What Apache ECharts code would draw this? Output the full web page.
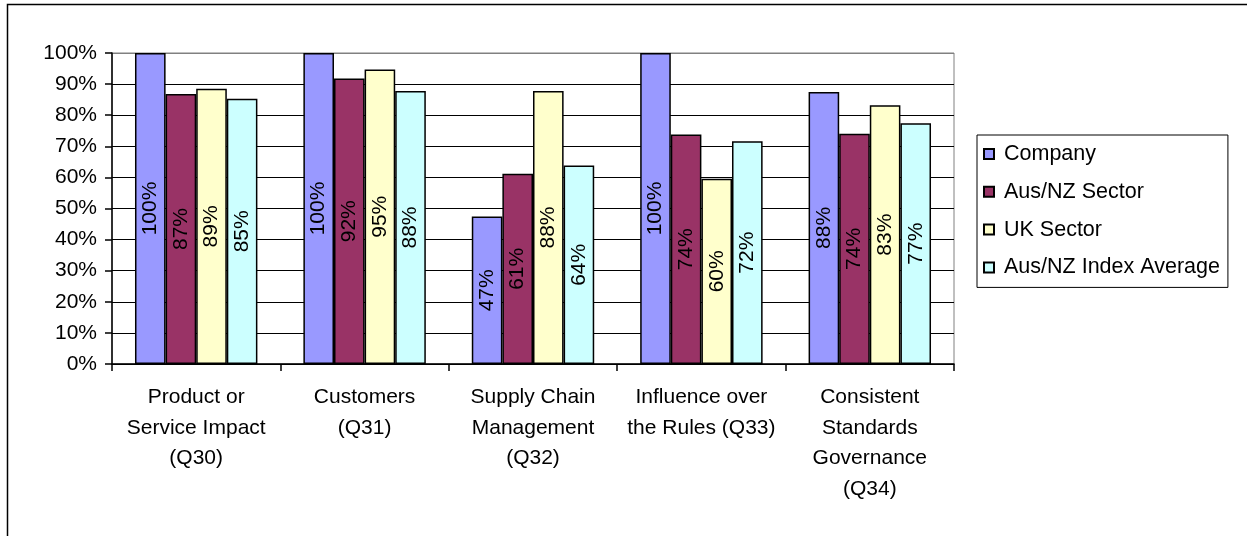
<!DOCTYPE html>
<html>
<head>
<meta charset="utf-8">
<script src="https://cdn.jsdelivr.net/npm/echarts@6/dist/echarts.min.js"></script>
<style>
html,body{margin:0;padding:0;background:#fff;}
#c{width:1247px;height:536px;}
</style>
</head>
<body>
<div id="c"></div>
<script>
const categories = [
  "Product or\nService Impact\n(Q30)",
  "Customers\n(Q31)",
  "Supply Chain\nManagement\n(Q32)",
  "Influence over\nthe Rules (Q33)",
  "Consistent\nStandards\nGovernance\n(Q34)"
];
const seriesNames = ["Company", "Aus/NZ Sector", "UK Sector", "Aus/NZ Index Average"];
const company = [100, 100, 47.4, 100, 87.5];
const ausNzSector = [86.8, 91.8, 61.2, 73.8, 74.0];
const ukSector = [88.5, 94.7, 87.8, 59.6, 83.2];
const ausNzIndexAverage = [85.3, 87.8, 63.8, 71.6, 77.4];
const yTicks = [0, 10, 20, 30, 40, 50, 60, 70, 80, 90, 100];

const colors = ["#9999FF", "#993366", "#FFFFCC", "#CCFFFF"];
const allData = [company, ausNzSector, ukSector, ausNzIndexAverage];
const FONT = "Liberation Sans, Arial, sans-serif";

const chart = echarts.init(document.getElementById('c'), null, {renderer: 'canvas'});
const splitColors = yTicks.map((t, i) => i === yTicks.length - 1 ? '#808080' : '#000000');

chart.setOption({
  animation: false,
  backgroundColor: '#ffffff',
  textStyle: {fontFamily: FONT},
  graphic: [{
    type: 'rect',
    shape: {x: 7.5, y: 4.5, width: 3000, height: 3000},
    style: {fill: 'none', stroke: '#000', lineWidth: 1.5},
    z: 0
  }],
  grid: {
    left: 112, right: 293, top: 53, bottom: 172,
    show: true, borderColor: '#808080', borderWidth: 1, backgroundColor: 'transparent'
  },
  legend: {
    orient: 'vertical',
    left: 977, top: 135,
    width: 255,
    padding: [8, 8, 9, 6],
    itemGap: 15.8,
    itemWidth: 10, itemHeight: 10,
    borderColor: '#000', borderWidth: 1,
    icon: 'rect',
    data: seriesNames,
    textStyle: {fontSize: 21.5, fontFamily: FONT, color: '#000', lineHeight: 20, padding: [0, 0, 0, 5]}
  },
  xAxis: {
    type: 'category',
    data: categories,
    axisLine: {lineStyle: {color: '#000', width: 1.5}},
    axisTick: {show: true, length: 7, lineStyle: {color: '#000', width: 1.5}},
    axisLabel: {interval: 0, fontSize: 21, fontFamily: FONT, color: '#000', lineHeight: 30.5, margin: 18}
  },
  yAxis: {
    type: 'value',
    min: 0, max: 100, interval: 10,
    axisLine: {show: true, lineStyle: {color: '#000', width: 1.5}},
    axisTick: {show: true, length: 7, lineStyle: {color: '#000', width: 1.5}},
    axisLabel: {formatter: '{value}%', fontSize: 21, fontFamily: FONT, color: '#000', margin: 15},
    splitLine: {show: true, lineStyle: {color: splitColors, width: 1}}
  },
  series: seriesNames.map((name, i) => ({
    name: name,
    type: 'bar',
    data: allData[i],
    barGap: '0%',
    barCategoryGap: '27.3%',
    itemStyle: {color: colors[i], borderColor: '#000', borderWidth: 1.5},
    label: {
      show: true,
      position: 'inside',
      rotate: 90,
      fontSize: 21,
      fontFamily: FONT,
      color: '#000',
      formatter: p => Math.round(p.value) + '%'
    }
  }))
});
</script>
</body>
</html>
